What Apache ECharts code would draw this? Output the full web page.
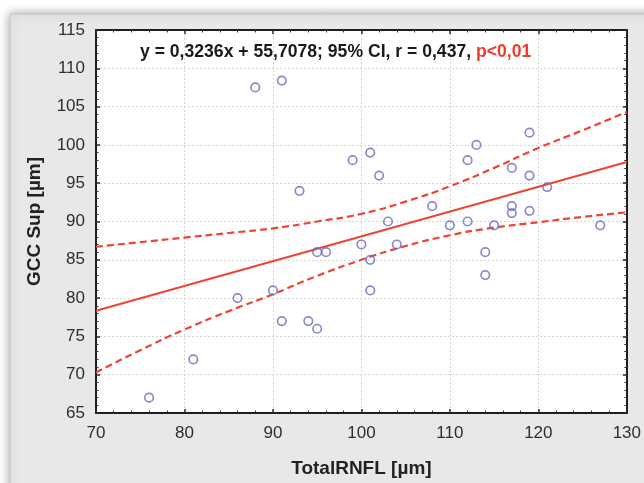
<!DOCTYPE html>
<html>
<head>
<meta charset="utf-8">
<script src="https://cdn.jsdelivr.net/npm/echarts@6/dist/echarts.min.js"></script>
<style>
  html, body { margin: 0; padding: 0; background: #ffffff; }
  #chart { width: 644px; height: 483px; }
</style>
</head>
<body>
<div id="chart"></div>
<script>
// TotalRNFL (x) vs GCC Sup (y), both in µm
const totalRNFL = [76, 81, 86, 88, 90, 91, 91, 93, 94, 95, 95, 96, 99, 100, 101, 101, 101, 102, 103, 104,
                   108, 110, 112, 112, 113, 114, 114, 115, 117, 117, 117, 119, 119, 119, 121, 127];
const gccSup    = [67, 72, 80, 107.5, 81, 108.4, 77, 94, 77, 76, 86, 86, 98, 87, 99, 85, 81, 96, 90, 87,
                   92, 89.5, 98, 90, 100, 86, 83, 89.5, 97, 92, 91.1, 101.6, 96, 91.4, 94.5, 89.5];

// Fitted line: y = 0,3236x + 55,7078
const slope = 0.3236;
const intercept = 55.7078;

// 95% confidence band
const bandX     = [70, 75, 80, 85, 90, 95, 100, 105, 110, 115, 120, 125, 130];
const bandUpper = [86.7, 87.3, 87.9, 88.5, 89.1, 90.0, 91.0, 92.6, 94.6, 97.0, 99.6, 101.9, 104.3];
const bandLower = [70.3, 73.2, 75.9, 78.3, 80.5, 82.9, 85.0, 86.8, 88.2, 89.2, 89.9, 90.6, 91.2];

const xRange = [70, 130];
const yRange = [65, 115];

const statText = 'y = 0,3236x + 55,7078; 95% CI, r = 0,437, ';
const pText = 'p<0,01';
const xName = 'TotalRNFL [µm]';
const yName = 'GCC Sup [µm]';

const FONT = '"Liberation Sans", Arial, sans-serif';
const RED = '#ee4433';
const DOT = '#6e6ebd';

const scatterData = totalRNFL.map((x, i) => [x, gccSup[i]]);
const fitData = xRange.map(x => [x, slope * x + intercept]);
const upperData = bandX.map((x, i) => [x, bandUpper[i]]);
const lowerData = bandX.map((x, i) => [x, bandLower[i]]);

const frameLine = { show: true, onZero: false, lineStyle: { color: '#1e1e1e', width: 2 } };
const tick = { show: true, inside: true, length: 4, lineStyle: { color: '#2a2a2a', width: 1.5 } };
const minor = { show: true, splitNumber: 5, length: 2.5, lineStyle: { color: '#333', width: 1 } };
const grid = { show: true, lineStyle: { color: '#d4d4d4', width: 1, type: [2, 2] } };

const chart = echarts.init(document.getElementById('chart'), null, { renderer: 'canvas' });
chart.setOption({
  backgroundColor: '#ffffff',
  animation: false,
  graphic: [
    {
      type: 'rect', z: -10, silent: true,
      shape: { x: 10, y: 14, width: 700, height: 560 },
      style: { fill: '#e8e8e8', stroke: '#c2c2c2', lineWidth: 1,
               shadowBlur: 10, shadowColor: 'rgba(0,0,0,0.35)', shadowOffsetX: 0, shadowOffsetY: 0 }
    }
  ],
  title: {
    text: '{a|' + statText + '}{b|' + pText + '}',
    left: 135, top: 37,
    textStyle: {
      rich: {
        a: { fontFamily: FONT, fontWeight: 'bold', fontSize: 17.6, color: '#1a1a1a', lineHeight: 20 },
        b: { fontFamily: FONT, fontWeight: 'bold', fontSize: 17.6, color: '#ee3b2c', lineHeight: 20 }
      }
    }
  },
  grid: { left: 96, right: 16, top: 30, bottom: 66, show: true, backgroundColor: '#ffffff', borderWidth: 0 },
  xAxis: [
    {
      type: 'value', min: xRange[0], max: xRange[1], interval: 10, position: 'bottom',
      name: xName, nameLocation: 'middle', nameGap: 46,
      nameTextStyle: { fontFamily: FONT, fontWeight: 'bold', fontSize: 19, color: '#222' },
      axisLine: frameLine, axisTick: tick, minorTick: minor,
      axisLabel: { fontFamily: FONT, fontSize: 17, color: '#2e2e2e', margin: 12 },
      splitLine: grid
    },
    {
      type: 'value', min: xRange[0], max: xRange[1], interval: 10, position: 'top',
      axisLine: frameLine, axisTick: tick, minorTick: minor,
      axisLabel: { show: false }, splitLine: { show: false }
    }
  ],
  yAxis: [
    {
      type: 'value', min: yRange[0], max: yRange[1], interval: 5, position: 'left',
      name: yName, nameLocation: 'middle', nameGap: 52,
      nameTextStyle: { fontFamily: FONT, fontWeight: 'bold', fontSize: 19, color: '#222' },
      axisLine: frameLine, axisTick: tick, minorTick: minor,
      axisLabel: { fontFamily: FONT, fontSize: 17, color: '#2e2e2e', margin: 11 },
      splitLine: grid
    },
    {
      type: 'value', min: yRange[0], max: yRange[1], interval: 5, position: 'right',
      axisLine: frameLine, axisTick: tick, minorTick: minor,
      axisLabel: { show: false }, splitLine: { show: false }
    }
  ],
  series: [
    {
      name: 'CI upper', type: 'line', data: upperData, smooth: true, symbol: 'none',
      lineStyle: { color: RED, width: 2.2, type: [7, 4] }, z: 3
    },
    {
      name: 'CI lower', type: 'line', data: lowerData, smooth: true, symbol: 'none',
      lineStyle: { color: RED, width: 2.2, type: [7, 4] }, z: 3
    },
    {
      name: 'Fit', type: 'line', data: fitData, symbol: 'none',
      lineStyle: { color: RED, width: 2 }, z: 3
    },
    {
      name: 'Patients', type: 'scatter', data: scatterData, symbol: 'circle', symbolSize: 8.5,
      itemStyle: { color: 'rgba(255,255,255,0)', borderColor: DOT, borderWidth: 1.7 }, z: 4
    }
  ]
});
</script>
</body>
</html>
